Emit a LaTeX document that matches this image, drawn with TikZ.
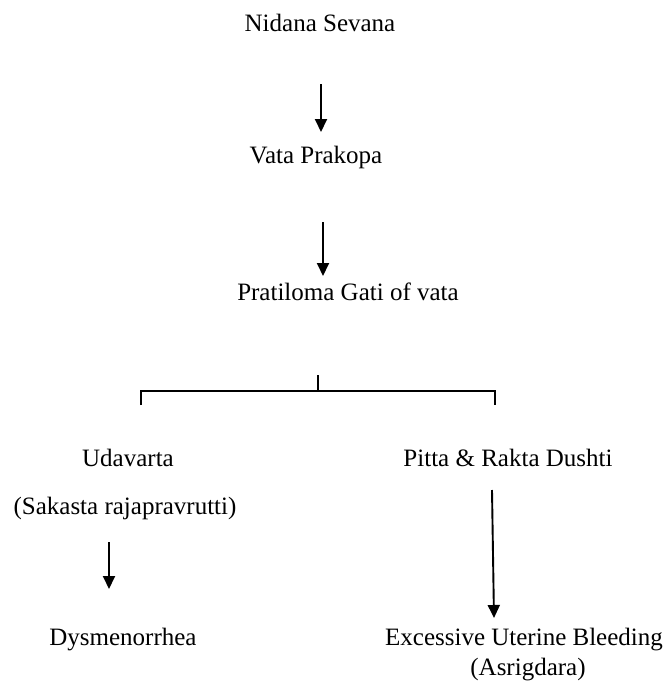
\documentclass[tikz,border=0pt]{standalone}
\usepackage{fontspec}
\setmainfont{Liberation Serif}
\usetikzlibrary{arrows.meta}
\begin{document}
\begin{tikzpicture}[x=1pt,y=-1pt,
  lbl/.style={inner sep=0pt,font=\fontsize{25}{30}\selectfont},
  arr/.style={line width=1.9pt,-{Triangle[length=13pt,width=12pt]}},
  brk/.style={line width=1.7pt}]
\useasboundingbox (0,0) rectangle (666,686);
\node[lbl] (n1) at (320,23) {Nidana Sevana};
\node[lbl] (n2) at (316,157) {Vata Prakopa};
\node[lbl] (n3) at (348,292) {Pratiloma Gati of vata};
\node[lbl] (ud) at (128,458) {Udavarta};
\node[lbl] (sk) at (125,508) {(Sakasta rajapravrutti)};
\node[lbl] (dy) at (123,640) {Dysmenorrhea};
\node[lbl] (pr) at (508,458) {Pitta \& Rakta Dushti};
\node[lbl] (ex) at (524,640) {Excessive Uterine Bleeding};
\node[lbl] (as) at (528,670) {(Asrigdara)};
\coordinate (a1s) at (321,84); \coordinate (a1e) at (321,132);
\coordinate (a2s) at (323,222); \coordinate (a2e) at (323,276);
\draw[arr] (a1s) -- (a1e);
\draw[arr] (a2s) -- (a2e);
\coordinate (st) at (318,375);
\coordinate (sb) at (318,391);
\coordinate (bl) at (141,391);
\coordinate (br) at (495,391);
\coordinate (bld) at (141,405);
\coordinate (brd) at (495,405);
\draw[brk] (st) -- (sb);
\draw[brk] (bld) -- (bl) -- (br) -- (brd);
\coordinate (a3s) at (109,542); \coordinate (a3e) at (109,589);
\draw[arr] (a3s) -- (a3e);
\coordinate (a4s) at (492,490); \coordinate (a4e) at (494,618);
\draw[arr] (a4s) -- (a4e);
\end{tikzpicture}
\end{document}
